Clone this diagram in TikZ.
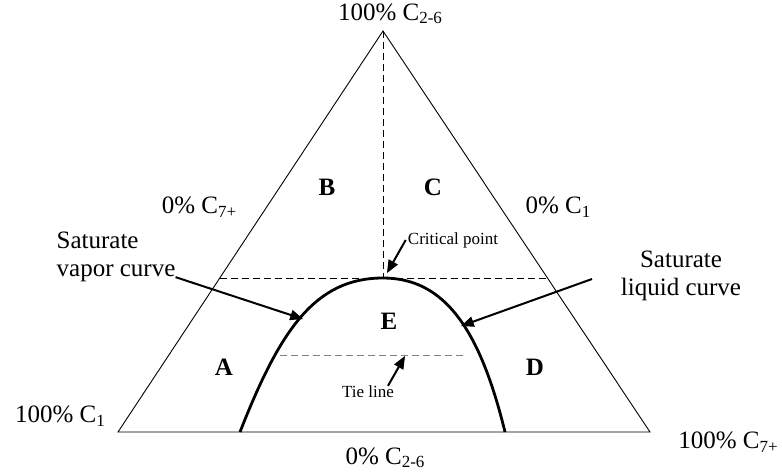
\documentclass[tikz,border=0pt]{standalone}
\usepackage{fontspec}
\setmainfont{Liberation Serif}
\usetikzlibrary{arrows,positioning,calc}
\newcommand{\lowtxt}[1]{\raisebox{-0.3ex}{\fontsize{17}{17}\selectfont #1}}
\tikzset{
  lbl/.style={font=\fontsize{25}{28}\selectfont, inner sep=0pt},
  small/.style={font=\fontsize{17}{19}\selectfont, inner sep=0pt},
  zone/.style={font=\fontsize{25}{28}\selectfont\bfseries, inner sep=0pt},
  pointer/.style={arrows=-triangle 45, line width=2pt},
  guide/.style={dash pattern=on 7pt off 4pt, line width=0.9pt},
}
\begin{document}
\begin{tikzpicture}[x=1pt,y=-1pt]
  \useasboundingbox (0,0) rectangle (782,472);
  % corners of the diagram
  \coordinate (top) at (383,31);
  \coordinate (left) at (118,432);
  \coordinate (right) at (650,432);
  \draw[line width=0.9pt] (top) -- (left) -- (right) -- cycle;

  % phase envelope
  \coordinate (vbase) at (240,432);
  \coordinate (crit) at (383,278);
  \coordinate (lbase) at (505,432);
  \draw[line width=2.8pt] (vbase) .. controls (280,330) and (315,278) .. (crit)
     .. controls (445,278) and (480,330) .. (lbase);

  % dashed guides
  \coordinate (hl) at (220,278);
  \coordinate (hr) at (546,278);
  \coordinate (tl) at (280,355);
  \coordinate (tr) at (465,355);
  \draw[guide] (top) -- (crit);
  \draw[guide] (hl) -- (hr);
  \draw[guide, gray] (tl) -- (tr);

  % corner labels
  \node[lbl] (c26top) at (390,14) {100\% C\lowtxt{2-6}};
  \node[lbl] (c7zero) at (199,207) {0\% C\lowtxt{7+}};
  \node[lbl] (c1zero) at (558,207) {0\% C\lowtxt{1}};
  \node[lbl] (c1full) at (60,416) {100\% C\lowtxt{1}};
  \node[lbl] (c7full) at (728,442) {100\% C\lowtxt{7+}};
  \node[lbl] (c26zero) at (385,458) {0\% C\lowtxt{2-6}};

  % regions
  \node[zone] (zb) at (327,187) {B};
  \node[zone] (zc) at (433,187) {C};
  \node[zone] (za) at (224,367) {A};
  \node[zone] (ze) at (389,321) {E};
  \node[zone] (zd) at (535,367) {D};

  % curve names
  \node[lbl, align=left] (vapor) at (116,257) {Saturate\\vapor curve};
  \node[lbl, align=center] (liquid) at (681,276) {Saturate\\liquid curve};
  \node[small] (critlbl) at (453,240) {Critical point};
  \node[small] (tielbl) at (368,392) {Tie line};

  \coordinate (vtip) at (303,319);
  \coordinate (ltip) at (461,326);
  \coordinate (ctip) at (387,273);
  \coordinate (ttip) at (405,356);
  \draw[pointer] (vapor.south east) ++(0,-5) -- (vtip);
  \draw[pointer] (592,279) -- (ltip);
  \draw[pointer] (critlbl.west) ++(-2,0) -- (ctip);
  \draw[pointer] (tielbl.north) ++(20,0) -- (ttip);
\end{tikzpicture}
\end{document}
